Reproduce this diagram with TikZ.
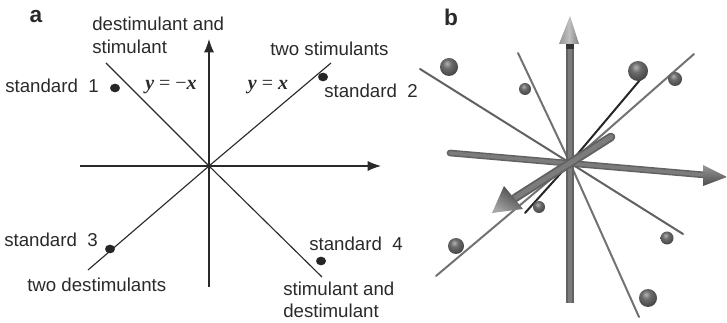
\documentclass[tikz,border=0pt]{standalone}
\usepackage{fontspec}
\setmainfont{Liberation Sans}
\newfontfamily\eqfont{Liberation Serif}
\usetikzlibrary{arrows.meta}
\definecolor{inkgray}{HTML}{2A2A2A}
\definecolor{tubedark}{HTML}{626262}
\definecolor{tubelight}{HTML}{7C7C7C}
\definecolor{linegray}{HTML}{727272}
\pgfdeclareradialshading{sphereball}{\pgfpoint{-6bp}{10bp}}{
  color(0bp)=(gray!60!white);
  color(12bp)=(gray!85!black);
  color(30bp)=(black!72);
  color(50bp)=(black!68);
  color(100bp)=(black!68)}
\tikzset{
  txt/.style={inner sep=0pt, anchor=west, text=inkgray, font=\fontsize{14}{16}\selectfont},
  head/.style={font=\fontsize{17}{19}\selectfont\bfseries, inner sep=0pt, text=inkgray},
  eqn/.style={inner sep=0pt, text=inkgray, font=\fontsize{15}{16}\selectfont\eqfont},
  axis/.style={draw=inkgray, line width=0.85pt},
  axisarrow/.style={axis, -{Latex[length=10pt,width=7.5pt]}},
  spot/.style={circle, fill=black!85, minimum size=6.5pt, inner sep=0pt, xscale=1.15},
  thin tube/.style={draw=#1, line width=1.5pt, line cap=round},
  tube/.style={draw=tubedark, line width=#1, line cap=round, postaction={draw=tubelight, line width=0.55*#1}},
  sphere/.style={shading=sphereball}
}
\begin{document}
\begin{tikzpicture}[x=0.75pt, y=-0.75pt]
\useasboundingbox (0,0) rectangle (727,323);
% panel a
\node[head] (labela) at (36,17) {a};
\coordinate (O) at (209,166);
\coordinate (xl) at (80,166);
\coordinate (xr) at (381,166);
\coordinate (yb) at (209,287);
\coordinate (yt) at (209,39);
\coordinate (ul) at (106,63);
\coordinate (lr) at (322,277);
\coordinate (ur) at (331,63);
\coordinate (ll) at (88,270);
\draw[axisarrow] (xl) -- (xr);
\draw[axisarrow] (yb) -- (yt);
\draw[axis] (ul) -- (O) -- (lr);
\draw[axis] (ll) -- (O) -- (ur);
\node[spot] (s1) at (115,88) {};
\node[spot] (s2) at (323,77) {};
\node[spot] (s3) at (110,249) {};
\node[spot] (s4) at (321,261) {};
\node[txt] (t1) at (92,24) {destimulant and};
\node[txt] (t2) at (92,47) {stimulant};
\node[txt] (t3) at (270,49) {two stimulants};
\node[txt] (t4) at (5,86) {standard\ \ 1};
\node[txt] (t5) at (324,91) {standard\ \ 2};
\node[txt] (t6) at (4,240) {standard\ \ 3};
\node[txt] (t7) at (27,285) {two destimulants};
\node[txt] (t8) at (309,244) {standard\ \ 4};
\node[txt] (t9) at (283,289) {stimulant and};
\node[txt] (t10) at (283,311) {destimulant};
\node[eqn] (e1) at (171,87) {\bfseries\itshape y {\mdseries\upshape =} {\mdseries\upshape −}x};
\node[eqn] (e2) at (268,87) {\bfseries\itshape y {\mdseries\upshape =} x};
% panel b
\node[head] (labelb) at (451,17) {b};
\coordinate (C) at (570,163);
\draw[thin tube=linegray!85!black] (420,69) -- (C) -- (683,234);
\draw[thin tube=linegray] (518,53) -- (C);
\draw[thin tube=linegray] (C) -- (639,317);
\draw[thin tube=linegray] (694,54) -- (C) -- (436,276);
\draw[thin tube=black!85] (645,74) -- (C) -- (525,213);
\foreach \px/\py/\pr in {449/67/9, 525/89/6, 638/71/10, 675/79/7, 456/246/8, 539/207/6, 667/238/6.5, 648/298/9} {
  \shade[sphere] (\px,\py) circle (\pr);
}
\draw[tube=5pt] (450,153) -- (705,175);
\shade[top color=gray!80, bottom color=black!70] (703,165) -- (727,177) -- (703,186) -- cycle;
\draw[tube=5.5pt, line cap=butt] (570,303) -- (570,46);
\fill[black!80] (566,44) rectangle (574,49);
\shade[left color=gray!85, right color=gray, middle color=gray!50] (559,44) -- (570,16) -- (579,44) -- cycle;
\draw[tube=6.5pt] (611,137) -- (515,198);
\shade[left color=black!75, right color=gray!70, shading angle=-35] (504,186) -- (492,213) -- (523,209) -- cycle;
\end{tikzpicture}
\end{document}
